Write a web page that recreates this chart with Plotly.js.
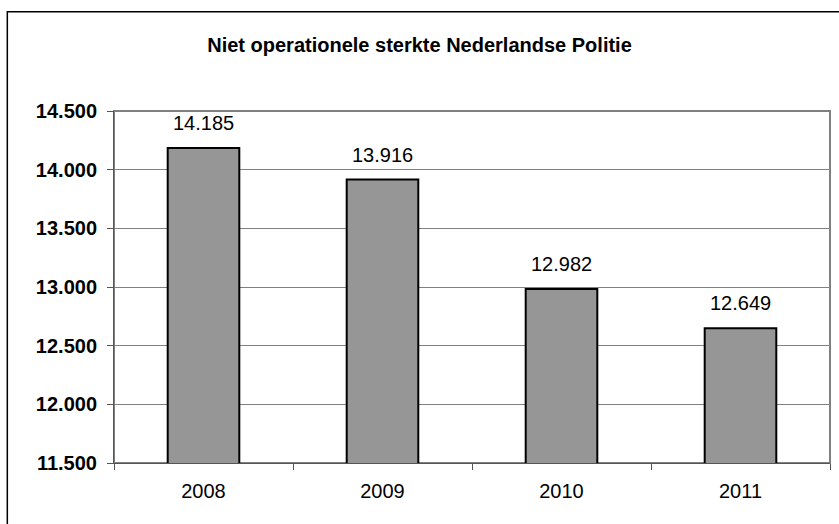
<!DOCTYPE html>
<html>
<head>
<meta charset="utf-8">
<script src="https://cdn.plot.ly/plotly-3.0.1.min.js"></script>
<style>html,body{margin:0;padding:0;background:#fff;}#chart{width:839px;height:524px;}</style>
</head>
<body>
<div id="chart"></div>
<script>
const years = ['2008', '2009', '2010', '2011'];
const strength = [14185, 13916, 12982, 12649];
const yTicks = [11500, 12000, 12500, 13000, 13500, 14000, 14500];

function fmt(v) {
  return String(v).replace(/\B(?=(\d{3})+(?!\d))/g, '.');
}

const FONT = 'Liberation Sans, Arial, sans-serif';

const trace = {
  type: 'bar',
  x: years,
  y: strength,
  width: 0.4,
  marker: {color: '#969696', line: {color: '#000000', width: 2}},
  hoverinfo: 'none'
};

const annotations = years.map((yr, i) => ({
  x: i, y: strength[i], xref: 'x', yref: 'y',
  text: fmt(strength[i]), showarrow: false,
  yanchor: 'bottom', yshift: 12,
  font: {family: FONT, size: 20, color: '#000'}
}));

const layout = {
  width: 839, height: 524,
  margin: {l: 114, r: 9, t: 111, b: 61, pad: 0},
  paper_bgcolor: '#ffffff', plot_bgcolor: '#ffffff',
  separators: ',.',
  showlegend: false,
  title: {
    text: 'Niet operationele sterkte Nederlandse Politie',
    font: {family: FONT, size: 20, color: '#000', weight: 'bold'},
    x: 0.5, xanchor: 'center', xref: 'container',
    y: 0.914, yanchor: 'middle', yref: 'container'
  },
  xaxis: {
    type: 'category',
    range: [-0.5, 3.5],
    tickson: 'boundaries',
    ticks: 'outside', ticklen: 6, tickcolor: '#555', tickwidth: 1,
    showline: true, linecolor: '#555', linewidth: 1,
    showgrid: false,
    tickangle: 0,
    tickfont: {family: FONT, size: 20, color: '#000'},
    ticklabelstandoff: 10,
    fixedrange: true
  },
  yaxis: {
    range: [11500, 14500],
    tickvals: yTicks,
    ticktext: yTicks.map(fmt),
    ticks: 'outside', ticklen: 6, tickcolor: '#555', tickwidth: 1,
    showline: true, linecolor: '#555', linewidth: 1,
    showgrid: true, gridcolor: '#808080', gridwidth: 1,
    zeroline: false,
    tickfont: {family: FONT, size: 20, color: '#000', weight: 'bold'},
    ticklabelstandoff: 6,
    fixedrange: true
  },
  annotations: annotations,
  shapes: [
    {type: 'rect', xref: 'paper', yref: 'paper', x0: 0, x1: 1, y0: 0, y1: 1,
     line: {color: '#808080', width: 2}, layer: 'below'},
    {type: 'rect', xref: 'paper', yref: 'paper', x0: -0.149, x1: 1.05, y0: -0.3, y1: 1.282,
     line: {color: '#000000', width: 1.5}, layer: 'below'}
  ]
};

Plotly.newPlot('chart', [trace], layout, {staticPlot: true, displayModeBar: false});
</script>
</body>
</html>
